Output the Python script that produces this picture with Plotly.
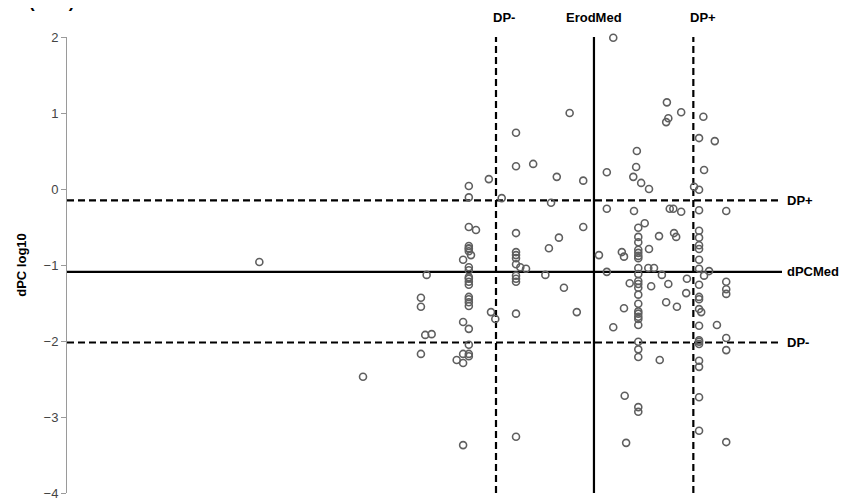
import plotly.graph_objects as go

# ---- data (x: Erod, arbitrary units; y: dPC log10) ----
x_left = [2.69, 4.14, 5.03, 4.95, 4.95, 5.01, 5.10, 4.95]
y_left = [-0.96, -2.47, -1.13, -1.43, -1.55, -1.92, -1.91, -2.17]

x_c1 = 5.62
y_c1 = [0.04, -0.11, -0.50, -0.75, -0.78, -0.79, -0.82, -1.03, -1.07, -1.16, -1.18,
        -1.22, -1.26, -1.42, -1.45, -1.49, -1.54, -1.84, -2.05, -2.17, -2.20]

x_mid = [5.65, 5.72, 5.54, 5.54, 5.54, 5.45, 5.54, 5.54, 5.90, 5.93, 5.99, 6.08,
         6.34, 6.42, 6.52, 6.69, 6.74, 6.77, 6.85, 6.88, 6.95, 7.03, 7.13, 7.22, 7.22,
         7.44, 7.55, 7.55, 7.55, 7.64, 7.64, 7.76, 7.79, 7.79, 7.80, 7.82, 7.87, 7.92,
         7.93, 7.97, 7.96]
y_mid = [-0.87, -0.54, -0.93, -1.75, -2.17, -2.25, -2.29, -3.37, 0.13, -1.62, -1.71, -0.12,
         -1.03, -1.05, 0.33, -1.13, -0.78, -0.18, 0.16, -0.64, -1.30, 1.00, -1.62, 0.11, -0.50,
         -0.87, 0.22, -0.26, -1.09, 1.99, -1.82, -0.83, -0.89, -1.57, -2.72, -3.34, -1.24, 0.16,
         -0.29, 0.50, 0.29]

x_c2 = 6.28
y_c2 = [0.74, 0.30, -0.58, -0.83, -0.87, -0.91, -0.99, -1.14, -1.18, -1.22, -1.64, -3.26]

x_c3 = 7.99
y_c3 = [-0.51, -0.63, -0.70, -0.80, -0.84, -0.88, -0.91, -1.04, -1.12, -1.21, -1.25, -1.30,
        -1.39, -1.51, -1.61, -1.64, -1.68, -1.71, -1.79, -2.01, -2.11, -2.21, -2.87, -2.93]

x_right = [8.03, 8.08, 8.13, 8.14, 8.14, 8.17, 8.21, 8.28, 8.29, 8.32, 8.38, 8.39, 8.41, 8.38,
           8.41, 8.43, 8.48, 8.49, 8.52, 8.53, 8.59, 8.59, 8.66, 8.67, 8.77,
           8.87, 8.90, 8.91, 8.91, 8.98, 9.06, 9.09]
y_right = [0.08, -0.45, -1.04, 0.00, -0.79, -1.28, -1.04, -0.62, -2.25, -1.13, -1.49, 1.14, 0.93, 0.88,
           -1.25, -0.26, -0.26, -0.58, -0.63, -1.55, 1.01, -0.30, -1.37, -1.18, 0.03,
           -1.62, 0.95, 0.25, -1.14, -1.08, 0.63, -1.79]

x_c4 = 8.84
y_c4 = [0.67, -0.01, -0.28, -0.55, -0.64, -0.74, -0.79, -0.93, -1.05, -1.26, -1.42, -1.45,
        -1.58, -1.80, -1.99, -2.01, -2.04, -2.26, -2.34, -2.74, -3.18]

x_c5 = 9.22
y_c5 = [-0.29, -1.22, -1.32, -1.38, -1.96, -2.12, -3.33]

# thresholds
erod_dp_minus = 6.00
erod_med = 7.37
erod_dp_plus = 8.76
dpc_dp_plus = -0.15
dpc_med = -1.09
dpc_dp_minus = -2.02

y_ticks = [-4, -3, -2, -1, 0, 1, 2]

# ---- assemble ----
xs = list(x_left) + [x_c1] * len(y_c1) + list(x_mid) + [x_c2] * len(y_c2) \
    + [x_c3] * len(y_c3) + list(x_right) + [x_c4] * len(y_c4) + [x_c5] * len(y_c5)
ys = list(y_left) + list(y_c1) + list(y_mid) + list(y_c2) + list(y_c3) \
    + list(y_right) + list(y_c4) + list(y_c5)

fig = go.Figure()
fig.add_trace(go.Scatter(
    x=xs, y=ys, mode="markers",
    marker=dict(symbol="circle-open", size=7, color="#5f5f5f", line=dict(width=1.6)),
    showlegend=False, cliponaxis=False,
))

XMIN, XMAX = 0, 10
YMIN, YMAX = -4, 2
dash = "7px,4px"

for yv, d in [(dpc_dp_plus, dash), (dpc_med, "solid"), (dpc_dp_minus, dash)]:
    fig.add_shape(type="line", xref="x", yref="y", x0=XMIN, x1=XMAX, y0=yv, y1=yv,
                  line=dict(color="black", width=2.2, dash=d), layer="below")
for xv, d in [(erod_dp_minus, dash), (erod_med, "solid"), (erod_dp_plus, dash)]:
    fig.add_shape(type="line", xref="x", yref="y", x0=xv, x1=xv, y0=YMIN, y1=YMAX,
                  line=dict(color="black", width=2.2, dash=d), layer="below")

lab_font = dict(family="Liberation Sans, Arial, sans-serif", size=13, color="black")
for yv, t in [(dpc_dp_plus, "<b>DP+</b>"), (dpc_med, "<b>dPCMed</b>"), (dpc_dp_minus, "<b>DP-</b>")]:
    fig.add_annotation(xref="paper", yref="y", x=1, y=yv, text=t, showarrow=False,
                       xanchor="left", yanchor="middle", xshift=3, font=lab_font)
for xv, t, anc, sh in [(erod_dp_minus, "<b>DP-</b>", "left", -5),
                       (erod_med, "<b>ErodMed</b>", "center", 0),
                       (erod_dp_plus, "<b>DP+</b>", "left", -5)]:
    fig.add_annotation(xref="x", yref="paper", x=xv, y=1, text=t, showarrow=False,
                       xanchor=anc, yanchor="middle", xshift=sh, yshift=20, font=lab_font)

# caption cropped at the top edge, as in the reference
fig.add_annotation(xref="paper", yref="paper", x=0, y=1, text="<b>(dPC)</b>", showarrow=False,
                   xanchor="left", yanchor="middle", xshift=-40, yshift=35,
                   font=dict(family="Liberation Sans, Arial, sans-serif", size=17, color="black"))

# the page body adds an 8px offset, so the figure is sized/margined to compensate
fig.update_layout(
    width=848, height=493,
    margin=dict(l=59, r=74, t=29, b=8),
    paper_bgcolor="white", plot_bgcolor="white",
    xaxis=dict(range=[XMIN, XMAX], visible=False, showgrid=False, zeroline=False,
               automargin=False),
    yaxis=dict(range=[YMIN, YMAX], tickvals=y_ticks, showgrid=False, zeroline=False,
               automargin=False,
               showline=True, linecolor="#9a9a9a", linewidth=1,
               ticks="outside", ticklen=5, tickcolor="#9a9a9a",
               tickfont=dict(family="Liberation Sans, Arial, sans-serif", size=13, color="#444444"),
               title=dict(text="<b>dPC log10</b>", standoff=14,
                          font=dict(family="Liberation Sans, Arial, sans-serif", size=13, color="black"))),
)

fig.write_html("out.html")
